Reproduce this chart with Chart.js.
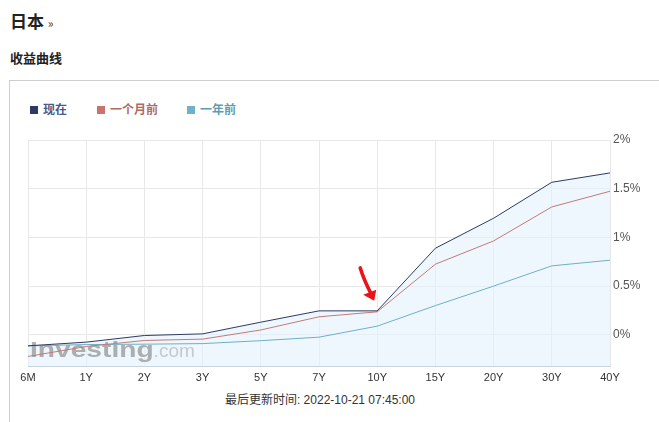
<!DOCTYPE html>
<html>
<head>
<meta charset="utf-8">
<script src="https://cdn.jsdelivr.net/npm/chart.js@4/dist/chart.umd.min.js"></script>
<style>
  body { margin: 0; background: #fff; font-family: "Noto Sans CJK SC", "Liberation Sans", sans-serif; width: 659px; height: 422px; overflow: hidden; position: relative; }
  .title { position: absolute; left: 10px; top: 8px; font-size: 17px; font-weight: bold; color: #222; }
  .title span { font-size: 12px; font-weight: normal; color: #444; }
  .sub { position: absolute; left: 10px; top: 48px; font-size: 13px; font-weight: bold; color: #222; }
  .box { position: absolute; left: 9px; top: 80px; width: 660px; height: 360px; border-top: 1px solid #cfcfcf; border-left: 1px solid #cfcfcf; }
  .legend { position: absolute; top: 100px; font-size: 12px; font-weight: bold; }
  .legend i { display: inline-block; width: 8px; height: 8px; margin-right: 5px; vertical-align: 0px; }
  #wrap { position: absolute; left: 10px; top: 125px; width: 649px; height: 265px; }
  .foot { position: absolute; left: 0; width: 640px; top: 390px; text-align: center; font-size: 12px; color: #333; font-family: "Liberation Sans", "Noto Sans CJK SC", sans-serif; }
</style>
</head>
<body>
<div class="title">日本 <span>»</span></div>
<div class="sub">收益曲线</div>
<div class="box"></div>
<div class="legend" style="left:30px;color:#4a5888"><i style="background:#2c3b63"></i>现在</div>
<div class="legend" style="left:97px;color:#b06a64"><i style="background:#c8746c"></i>一个月前</div>
<div class="legend" style="left:187px;color:#5f9cb0"><i style="background:#6fb3c8"></i>一年前</div>
<div id="wrap"><canvas id="plot"></canvas></div>
<div class="foot">最后更新时间: 2022-10-21 07:45:00</div>
<script>
const tenors = ['6M', '1Y', '2Y', '3Y', '5Y', '7Y', '10Y', '15Y', '20Y', '30Y', '40Y'];
const nowYield = [-0.113, -0.075, -0.007, 0.01, 0.13, 0.246, 0.246, 0.889, 1.197, 1.566, 1.662];
const monthAgoYield = [-0.222, -0.12, -0.058, -0.044, 0.05, 0.185, 0.236, 0.725, 0.964, 1.313, 1.474];
const yearAgoYield = [-0.113, -0.10, -0.096, -0.09, -0.06, -0.024, 0.089, 0.30, 0.50, 0.708, 0.766];
const yTicks = [0, 0.5, 1, 1.5, 2];

// watermark (over the fill, under the lines) + red hand-drawn arrow
const decorPlugin = {
    id: 'decor',
    beforeDatasetsDraw(chart) {
        const ctx = chart.ctx;
        const x = chart.scales.x.getPixelForValue(0);
        const y = chart.chartArea.bottom;
        ctx.save();
        ctx.translate(x + 2, y - 9);
        ctx.scale(1.28, 1);
        ctx.fillStyle = 'rgba(150,150,150,0.75)';
        ctx.font = 'bold 22px "Liberation Sans", sans-serif';
        ctx.fillText('Investing', 0, 0);
        const w = ctx.measureText('Investing').width;
        ctx.restore();
        ctx.save();
        ctx.fillStyle = 'rgba(170,170,170,0.6)';
        ctx.font = '19px "Liberation Sans", sans-serif';
        ctx.fillText('.com', x + 2 + w * 1.28, y - 9);
        ctx.restore();
    },
    afterDraw(chart) {
        const ctx = chart.ctx;
        const px = chart.scales.x.getPixelForValue(6);
        const py = chart.scales.y.getPixelForValue(nowYield[6]);
        ctx.save();
        ctx.strokeStyle = '#e8141a';
        ctx.fillStyle = '#e8141a';
        ctx.lineWidth = 3.5;
        ctx.lineCap = 'round';
        ctx.beginPath();
        ctx.moveTo(px - 17, py - 43);
        ctx.quadraticCurveTo(px - 13, py - 30, px - 5, py - 15);
        ctx.stroke();
        ctx.beginPath();
        ctx.moveTo(px - 14, py - 16);
        ctx.lineTo(px - 1, py - 21);
        ctx.lineTo(px - 3, py - 10);
        ctx.closePath();
        ctx.fill();
        ctx.restore();
    }
};

const ctx = document.getElementById('plot').getContext('2d');
new Chart(ctx, {
    type: 'line',
    data: {
        labels: tenors,
        datasets: [
            {
                label: '现在',
                data: nowYield,
                borderColor: '#2c3b63',
                borderWidth: 1,
                backgroundColor: 'rgba(226,242,252,0.6)',
                fill: 'start',
                pointRadius: 0,
                tension: 0,
                order: 1
            },
            {
                label: '一个月前',
                data: monthAgoYield,
                borderColor: '#c47a76',
                borderWidth: 1,
                fill: false,
                pointRadius: 0,
                tension: 0,
                order: 2
            },
            {
                label: '一年前',
                data: yearAgoYield,
                borderColor: '#6fb0c6',
                borderWidth: 1,
                fill: false,
                pointRadius: 0,
                tension: 0,
                order: 3
            }
        ]
    },
    options: {
        responsive: true,
        maintainAspectRatio: false,
        animation: false,
        layout: { padding: { left: 18, top: 15, right: 0, bottom: 0 } },
        scales: {
            x: {
                offset: false,
                grid: { color: '#e8e8e8', drawTicks: false },
                border: { color: '#c9d5de' },
                ticks: { color: '#333', font: { size: 11, family: 'Liberation Sans' }, padding: 5, maxRotation: 0, autoSkip: false },
                afterFit: s => { s.height = 24; }
            },
            y: {
                position: 'right',
                min: -0.32,
                max: 2,
                grid: { color: '#e8e8e8', drawTicks: false },
                border: { display: false },
                afterBuildTicks: s => { s.ticks = yTicks.map(v => ({ value: v })); },
                ticks: {
                    color: '#555',
                    font: { size: 12, family: 'Liberation Sans' },
                    padding: 3,
                    callback: v => v + '%'
                },
                afterFit: s => { s.width = 49; }
            }
        },
        plugins: {
            filler: { drawTime: 'beforeDatasetsDraw' },
            legend: { display: false },
            tooltip: { enabled: false }
        }
    },
    plugins: [decorPlugin]
});
</script>
</body>
</html>
